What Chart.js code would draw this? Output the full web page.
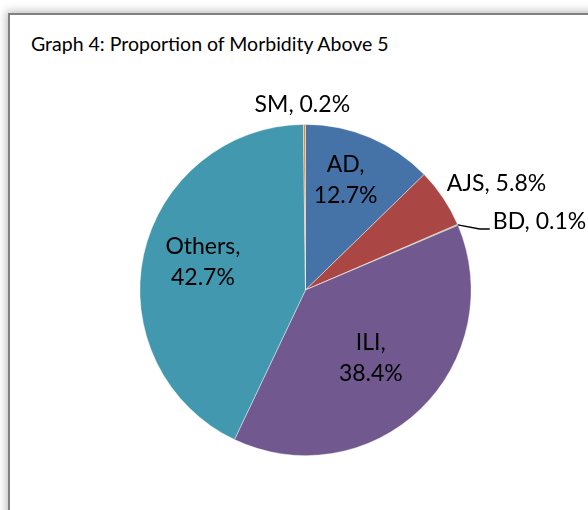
<!DOCTYPE html>
<html>
<head>
<meta charset="utf-8">
<script src="https://cdn.jsdelivr.net/npm/chart.js@4"></script>
<style>
  html, body { margin: 0; padding: 0; background: #fff; overflow: hidden; }
  #wrap { position: relative; width: 588px; height: 510px; overflow: hidden; }
  #frame { position: absolute; left: 8px; top: 13px; width: 640px; height: 560px;
           border: 2px solid #808080; background: #fff;
           box-shadow: 0 0 8px 2px rgba(0,0,0,0.25); }
  #title { position: absolute; left: 31px; top: 34px; font: 19.5px Lato, sans-serif;
           line-height: 20px; color: #000; white-space: nowrap; }
  #pie { position: absolute; left: 0; top: 0; }
</style>
</head>
<body>
<div id="wrap">
  <div id="frame"></div>
  <div id="title">Graph 4: Proportion of Morbidity Above 5</div>
  <canvas id="pie" width="588" height="510"></canvas>
</div>
<script>
// data (percent of cases)
const categories = ['AD', 'AJS', 'BD', 'ILI', 'Others', 'SM'];
const shares = [12.7, 5.8, 0.1, 38.4, 42.7, 0.2];
const sliceColors = ['#4572A7', '#AA4643', '#89A54E', '#71588F', '#4198AF', '#DB843D'];

// where each label sits: inside two lines, outside one line, or with a leader line
const labelPlacement = [
    { mode: 'in', r: 0.70, dx: -5, dy: -3 },
    { mode: 'out', r: 1.30, dx: 12, dy: 13 },
    { mode: 'leader' },
    { mode: 'in', r: 0.57, dx: 0, dy: 0 },
    { mode: 'in', r: 0.64, dx: 1, dy: -5 },
    { mode: 'out', r: 1.12, dx: -2, dy: 0 }
];
const LABEL_FONT = '23px Lato, sans-serif';
const LINE_GAP = 31;

const pieLabels = {
    id: 'pieLabels',
    afterDatasetsDraw(chart) {
        const ctx = chart.ctx;
        const arcs = chart.getDatasetMeta(0).data;
        ctx.save();
        ctx.font = LABEL_FONT;
        ctx.fillStyle = '#000';
        ctx.textAlign = 'center';
        ctx.textBaseline = 'middle';
        arcs.forEach((arc, i) => {
            const p = labelPlacement[i];
            const { x, y, startAngle, endAngle, outerRadius } = arc.getProps(['x', 'y', 'startAngle', 'endAngle', 'outerRadius'], true);
            const mid = (startAngle + endAngle) / 2;
            const pct = shares[i].toFixed(1) + '%';
            if (p.mode === 'leader') {
                const ex = x + Math.cos(mid) * outerRadius, ey = y + Math.sin(mid) * outerRadius;
                ctx.strokeStyle = '#000';
                ctx.lineWidth = 1.5;
                ctx.beginPath();
                ctx.moveTo(ex, ey);
                ctx.lineTo(ex + 22, ey + 4);
                ctx.lineTo(ex + 32, ey + 4);
                ctx.stroke();
                ctx.textAlign = 'left';
                ctx.fillText(categories[i] + ', ' + pct, ex + 35, ey - 3);
                ctx.textAlign = 'center';
                return;
            }
            const lx = x + Math.cos(mid) * outerRadius * p.r + p.dx;
            const ly = y + Math.sin(mid) * outerRadius * p.r + p.dy;
            if (p.mode === 'in') {
                ctx.fillText(categories[i] + ',', lx, ly - LINE_GAP / 2);
                ctx.fillText(pct, lx, ly + LINE_GAP / 2);
            } else {
                ctx.fillText(categories[i] + ', ' + pct, lx, ly);
            }
        });
        ctx.restore();
    }
};

new Chart(document.getElementById('pie'), {
    type: 'pie',
    data: {
        labels: categories,
        datasets: [{
            data: shares,
            backgroundColor: sliceColors,
            borderColor: 'rgba(255,255,255,0.55)',
            borderWidth: 0.75
        }]
    },
    options: {
        responsive: false,
        animation: false,
        layout: { padding: { left: 139, right: 116, top: 124, bottom: 54 } },
        plugins: {
            legend: { display: false },
            tooltip: { enabled: false }
        }
    },
    plugins: [pieLabels]
});
</script>
</body>
</html>
